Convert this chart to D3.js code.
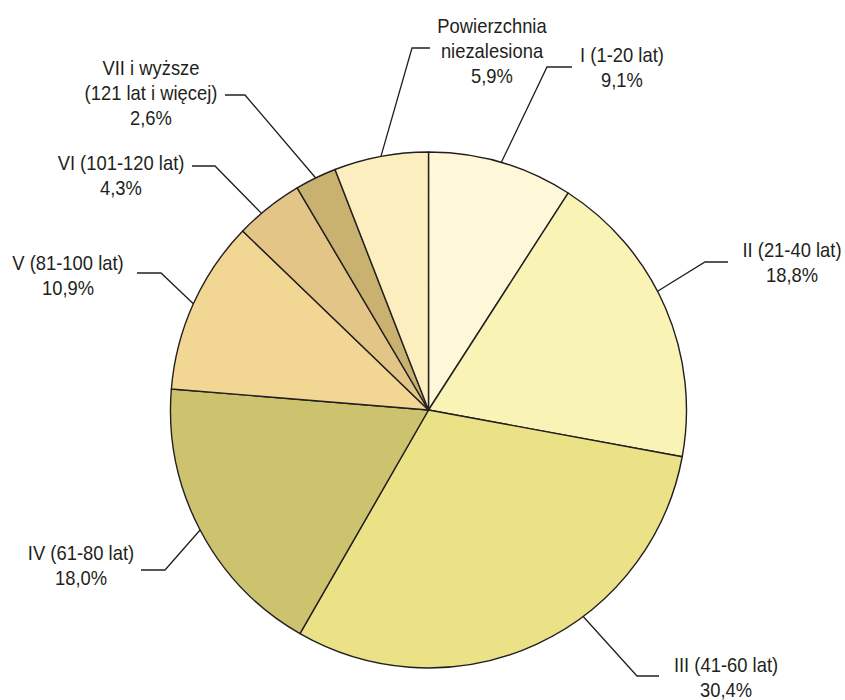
<!DOCTYPE html>
<html>
<head>
<meta charset="utf-8">
<script src="https://cdnjs.cloudflare.com/ajax/libs/d3/7.8.5/d3.min.js"></script>
<style>
  html, body { margin: 0; padding: 0; background: #fff; }
  #chart { width: 845px; height: 700px; }
  text { font-family: 'Liberation Sans', Arial, sans-serif; fill: #231f20; }
</style>
</head>
<body>
<div id="chart"></div>
<script>
/* Struktura powierzchni lasów wg klas wieku — wykres kołowy */

var categories = [
  'I (1-20 lat)',
  'II (21-40 lat)',
  'III (41-60 lat)',
  'IV (61-80 lat)',
  'V (81-100 lat)',
  'VI (101-120 lat)',
  'VII i wyższe\n(121 lat i więcej)',
  'Powierzchnia\nniezalesiona'
];
var values = [9.1, 18.8, 30.4, 18.0, 10.9, 4.3, 2.6, 5.9];
var colors = ['#fef7d8', '#f9f3b6', '#ebe287', '#cdc36f', '#f2d693', '#e3c687', '#c9b16f', '#fdeebf'];

// label layout: text centre, first baseline, elbow of leader, end of horizontal part
var labelLayout = [
  { tx: 622, ty: 62,  ex: 547, ey: 67,  hx: 572, shift: 0 },
  { tx: 792, ty: 257, ex: 705, ey: 262, hx: 728, shift: -4 },
  { tx: 726, ty: 672, ex: 637, ey: 676, hx: 659, shift: -12 },
  { tx: 81,  ty: 560, ex: 165, ey: 570, hx: 141, shift: 0 },
  { tx: 68,  ty: 270, ex: 161, ey: 273, hx: 137, shift: 0 },
  { tx: 121, ty: 170, ex: 215, ey: 166, hx: 192, shift: -2 },
  { tx: 151, ty: 75,  ex: 245, ey: 95,  hx: 225, shift: 0 },
  { tx: 492, ty: 33,  ex: 412, ey: 48,  hx: 430, shift: 0 }
];

var width = 845, height = 700;
var cx = 428.5, cy = 410, radius = 258;
var lineH = 25;
var narrow = 0.92; // poor man's Arial Narrow

var data = categories.map(function(c, i) {
  return { name: c, value: values[i], color: colors[i], layout: labelLayout[i] };
});

var svg = d3.select('#chart')
  .append('svg')
  .attr('width', width)
  .attr('height', height);

var pie = d3.pie()
  .sort(null)
  .value(function(d) { return d.value; });

var arc = d3.arc()
  .innerRadius(0)
  .outerRadius(radius);

var arcs = pie(data);

var g = svg.append('g')
  .attr('transform', 'translate(' + cx + ',' + cy + ')');

g.selectAll('path')
  .data(arcs)
  .enter().append('path')
  .attr('d', arc)
  .attr('fill', function(d) { return d.data.color; })
  .attr('stroke', '#231f20')
  .attr('stroke-width', 1.4)
  .attr('stroke-linejoin', 'round');

function fmt(v) {
  return v.toFixed(1).replace('.', ',') + '%';
}

// Leader lines
svg.append('g')
  .selectAll('polyline')
  .data(arcs)
  .enter().append('polyline')
  .attr('fill', 'none')
  .attr('stroke', '#231f20')
  .attr('stroke-width', 1.3)
  .attr('points', function(d) {
    var L = d.data.layout;
    var a = (d.startAngle + d.endAngle) / 2 + L.shift * Math.PI / 180;
    var px = cx + radius * Math.sin(a);
    var py = cy - radius * Math.cos(a);
    return [[px, py], [L.ex, L.ey], [L.hx, L.ey]].map(function(p) { return p.join(','); }).join(' ');
  });

// Labels
var labels = svg.append('g')
  .selectAll('text')
  .data(arcs)
  .enter().append('text')
  .attr('text-anchor', 'middle')
  .attr('font-size', '20px')
  .attr('transform', function(d) {
    return 'translate(' + d.data.layout.tx + ',' + d.data.layout.ty + ') scale(' + narrow + ',1)';
  });

labels.each(function(d) {
  var lines = d.data.name.split('\n').concat([fmt(d.data.value)]);
  var t = d3.select(this);
  lines.forEach(function(line, i) {
    t.append('tspan')
      .attr('x', 0)
      .attr('dy', i === 0 ? 0 : lineH)
      .text(line);
  });
});
</script>
</body>
</html>
